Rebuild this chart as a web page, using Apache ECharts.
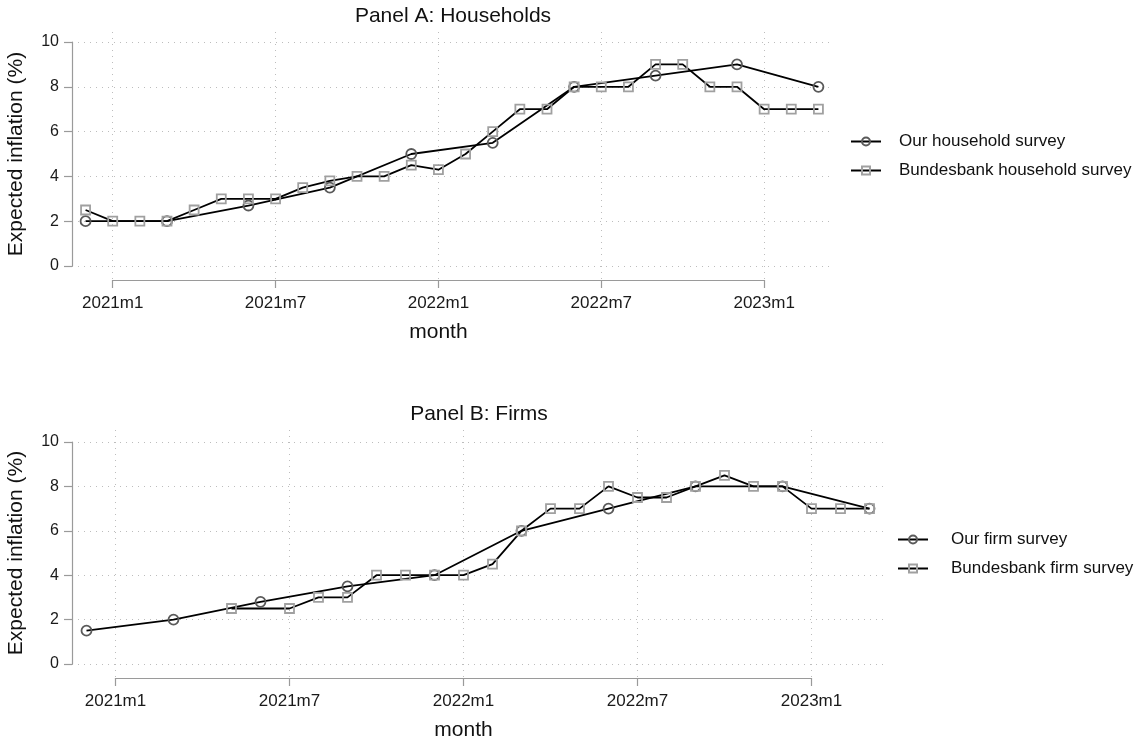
<!DOCTYPE html>
<html>
<head>
<meta charset="utf-8">
<script src="https://cdn.jsdelivr.net/npm/echarts@6.0.0/dist/echarts.min.js"></script>
<style>html,body{margin:0;padding:0;background:#fff;}#c{width:1138px;height:740px;}</style>
</head>
<body>
<div id="c"></div>
<script>
// ---- data ----
const tickLabels = ["2021m1", "2021m7", "2022m1", "2022m7", "2023m1"];

const hhOurMonths = ["2020m12","2021m3","2021m6","2021m9","2021m12","2022m3","2022m6","2022m9","2022m12","2023m3"];
const hhOurValues = [2.0, 2.0, 2.7, 3.5, 5.0, 5.5, 8.0, 8.5, 9.0, 8.0];

const hhBbkMonths = ["2020m12","2021m1","2021m2","2021m3","2021m4","2021m5","2021m6","2021m7","2021m8","2021m9","2021m10","2021m11","2021m12",
  "2022m1","2022m2","2022m3","2022m4","2022m5","2022m6","2022m7","2022m8","2022m9","2022m10","2022m11","2022m12","2023m1","2023m2","2023m3"];
const hhBbkValues = [2.5, 2.0, 2.0, 2.0, 2.5, 3.0, 3.0, 3.0, 3.5, 3.8, 4.0, 4.0, 4.5,
  4.3, 5.0, 6.0, 7.0, 7.0, 8.0, 8.0, 8.0, 9.0, 9.0, 8.0, 8.0, 7.0, 7.0, 7.0];

const firmOurMonths = ["2020m12","2021m3","2021m6","2021m9","2021m12","2022m3","2022m6","2022m9","2022m12","2023m3"];
const firmOurValues = [1.5, 2.0, 2.8, 3.5, 4.0, 6.0, 7.0, 8.0, 8.0, 7.0];

const firmBbkMonths = ["2021m5","2021m7","2021m8","2021m9","2021m10","2021m11","2021m12",
  "2022m1","2022m2","2022m3","2022m4","2022m5","2022m6","2022m7","2022m8","2022m9","2022m10","2022m11","2022m12",
  "2023m1","2023m2","2023m3"];
const firmBbkValues = [2.5, 2.5, 3.0, 3.0, 4.0, 4.0, 4.0,
  4.0, 4.5, 6.0, 7.0, 7.0, 8.0, 7.5, 7.5, 8.0, 8.5, 8.0, 8.0,
  7.0, 7.0, 7.0];

// ---- helpers ----
function monthIndex(label) { const p = label.split('m'); return (Number(p[0]) - 2021) * 12 + (Number(p[1]) - 1); }
function pairs(months, values) { return months.map((m, i) => [monthIndex(m), values[i]]); }

const FONT = 'Liberation Sans';
const AX = '#9a9a9a', GRIDC = '#bdbdbd';
const xMin = -1.5, xMax = 26.5, tickMin = 0, tickMax = 24;

const panels = [
  { title: 'Panel A: Households', left: 72, right: 832, yTop: 42, yBottom: 266, axisY: 280, gridTop: 32,
    legendLeft: 845, legendTop: 128, legendTextGap: 13,
    series: [['Our household survey', hhOurMonths, hhOurValues, 'circle'], ['Bundesbank household survey', hhBbkMonths, hhBbkValues, 'rect']] },
  { title: 'Panel B: Firms', left: 72, right: 884, yTop: 442, yBottom: 664, axisY: 678, gridTop: 430,
    legendLeft: 892, legendTop: 526, legendTextGap: 18,
    series: [['Our firm survey', firmOurMonths, firmOurValues, 'circle'], ['Bundesbank firm survey', firmBbkMonths, firmBbkValues, 'rect']] }
];

const grid = [], xAxis = [], yAxis = [], series = [], legend = [], title = [];
panels.forEach((p, k) => {
  const px = v => p.left + (v - xMin) / (xMax - xMin) * (p.right - p.left);
  const gd = grid.length;
  grid.push({ left: p.left, top: p.yTop, width: p.right - p.left, height: p.yBottom - p.yTop, outerBoundsMode: 'none', containLabel: false });
  grid.push({ left: px(tickMin), top: p.gridTop, width: px(tickMax) - px(tickMin), height: p.axisY - p.gridTop, outerBoundsMode: 'none', containLabel: false });
  xAxis.push({ gridIndex: gd, type: 'value', min: xMin, max: xMax, show: false });
  yAxis.push({ gridIndex: gd, type: 'value', min: 0, max: 10, interval: 2,
    axisLine: { show: true, onZero: false, lineStyle: { color: AX, width: 1.2 } },
    axisTick: { show: true, length: 8, lineStyle: { color: AX, width: 1.2 } },
    axisLabel: { fontFamily: FONT, fontSize: 16, color: '#1a1a1a', margin: 13 },
    splitLine: { show: true, lineStyle: { type: [1, 5], color: GRIDC, width: 1 } },
    name: 'Expected inflation (%)', nameLocation: 'middle', nameGap: 45,
    nameTextStyle: { fontFamily: FONT, fontSize: 21, color: '#111' } });
  xAxis.push({ gridIndex: gd + 1, type: 'value', min: tickMin, max: tickMax, interval: 6,
    axisLine: { show: true, onZero: false, lineStyle: { color: AX, width: 1.2 } },
    axisTick: { show: true, length: 8, lineStyle: { color: AX, width: 1.2 } },
    axisLabel: { fontFamily: FONT, fontSize: 17, color: '#1a1a1a', margin: 15, formatter: v => tickLabels[Math.round(v / 6)] },
    splitLine: { show: true, lineStyle: { type: [1, 5], color: GRIDC, width: 1 } },
    name: 'month', nameLocation: 'middle', nameGap: 42,
    nameTextStyle: { fontFamily: FONT, fontSize: 21, color: '#111' } });
  yAxis.push({ gridIndex: gd + 1, type: 'value', min: 0, max: 1, show: false });
  title.push({ text: p.title, left: (p.left + p.right) / 2 - 4, top: p.gridTop - 31, textAlign: 'center',
    textStyle: { fontFamily: FONT, fontSize: 21, fontWeight: 'normal', color: '#111' } });
  legend.push({ data: p.series.map(s => s[0]), left: p.legendLeft, top: p.legendTop, orient: 'vertical',
    itemWidth: 30, itemHeight: 10, itemGap: 12,
    textStyle: { fontFamily: FONT, fontSize: 17, color: '#111', padding: [0, 0, 0, p.legendTextGap] } });
  p.series.forEach(s => {
    const isCircle = s[3] === 'circle';
    series.push({ name: s[0], type: 'line', xAxisIndex: gd, yAxisIndex: gd, data: pairs(s[1], s[2]),
      symbol: s[3], symbolSize: isCircle ? 10 : 9, showAllSymbol: true,
      lineStyle: { color: '#000', width: 1.8 },
      itemStyle: { color: 'rgba(255,255,255,0)', borderColor: isCircle ? '#5a5a5a' : '#a0a0a0', borderWidth: 1.8 },
      emphasis: { disabled: true } });
  });
});

const chart = echarts.init(document.getElementById('c'), null, { renderer: 'canvas' });
chart.setOption({ animation: false, backgroundColor: '#fff', title, grid, xAxis, yAxis, legend, series });
</script>
</body>
</html>
